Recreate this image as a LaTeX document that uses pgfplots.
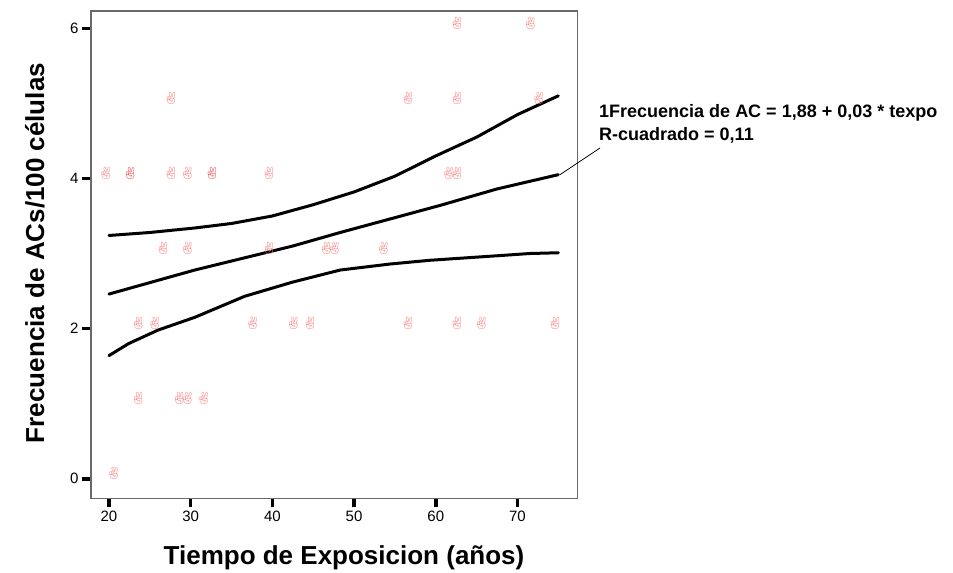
\documentclass[border=0pt]{standalone}
\usepackage{fontspec}
\setmainfont{Liberation Sans}
\newfontfamily\symfont{Noto Emoji}
\usepackage{pgfplots}
\pgfplotsset{compat=1.18}
\definecolor{mk}{RGB}{255,125,125}
\definecolor{mkd}{RGB}{238,70,70}
\definecolor{framec}{RGB}{105,105,105}

\pgfplotstableread{
x y
21 0
24 1
29 1
30 1
32 1
24 2
26 2
38 2
43 2
45 2
57 2
63 2
66 2
75 2
27 3
30 3
40 3
47 3
48 3
54 3
20 4
28 4
30 4
40 4
62 4
63 4
28 5
57 5
63 5
73 5
63 6
72 6
}\ptsingles

\pgfplotstableread{
x y
23 4
33 4
}\ptdoubles

\pgfplotstableread{
x y
20 3.24
25 3.28
30.5 3.34
35 3.40
40 3.50
45 3.65
50 3.82
55 4.03
60 4.30
65 4.55
70 4.85
75 5.10
}\bandU

\pgfplotstableread{
x y
20 2.46
30.5 2.78
42.5 3.10
48.3 3.28
54.4 3.46
60.5 3.64
67.5 3.86
75 4.05
}\bandC

\pgfplotstableread{
x y
20 1.64
22.4 1.80
26 1.98
30.5 2.15
36.6 2.43
42.5 2.62
48.3 2.78
54.4 2.86
59.3 2.91
63.4 2.94
67.5 2.97
71.5 3.00
75 3.01
}\bandL

\begin{document}
\begin{tikzpicture}[x=1bp,y=1bp]
\path[use as bounding box] (0,0) rectangle (953,573);
\begin{axis}[
  at={(91bp,74.7bp)}, anchor=south west,
  scale only axis, width=486.7bp, height=487.3bp,
  xmin=17.8, xmax=77.37, ymin=-0.26, ymax=6.23,
  xtick={20,30,40,50,60,70}, ytick={0,2,4,6},
  xtick pos=bottom, ytick pos=left,
  tick align=outside, major tick length=9bp,
  tick style={black, line width=3.5bp},
  axis line style={framec, line width=1.3bp},
  /pgf/number format/assume math mode=true,
  ticklabel style={font=\fontsize{15bp}{18bp}\selectfont},
  clip=false,
]
\addplot[only marks, mark=text, text mark={\symfont ✌}, text mark as node=true,
  text mark style={font=\fontsize{12bp}{12bp}\selectfont, text=mk, xshift=-3.3bp, yshift=5bp, inner sep=0pt}]
  table[x=x,y=y] {\ptsingles};
\addplot[only marks, mark=text, text mark={\symfont ✌}, text mark as node=true,
  text mark style={font=\fontsize{12bp}{12bp}\selectfont, text=mkd, xshift=-3.3bp, yshift=5bp, inner sep=0pt}]
  table[x=x,y=y] {\ptdoubles};
\addplot[black, line width=3bp, line join=round, line cap=round] table[x=x,y=y] {\bandU};
\addplot[black, line width=3bp, line join=round, line cap=round] table[x=x,y=y] {\bandC};
\addplot[black, line width=3bp, line join=round, line cap=round] table[x=x,y=y] {\bandL};
\coordinate (cend) at (axis cs:75.2,4.05);
\end{axis}
\draw[line width=0.8bp] (cend) -- (600,425);
\node[anchor=base west, inner sep=0pt, font=\fontsize{18bp}{22bp}\selectfont\bfseries] at (599,455) {1Frecuencia de AC = 1,88 + 0,03 * texpo};
\node[anchor=base west, inner sep=0pt, font=\fontsize{18bp}{22bp}\selectfont\bfseries] at (599,432) {R-cuadrado = 0,11};
\node[anchor=base, inner sep=0pt, font=\fontsize{26bp}{30bp}\selectfont\bfseries] at (344,8) {Tiempo de Exposicion (años)};
\node[anchor=base, rotate=90, inner sep=0pt, font=\fontsize{26bp}{30bp}\selectfont\bfseries] at (44,320) {Frecuencia de ACs/100 células};
\end{tikzpicture}
\end{document}
